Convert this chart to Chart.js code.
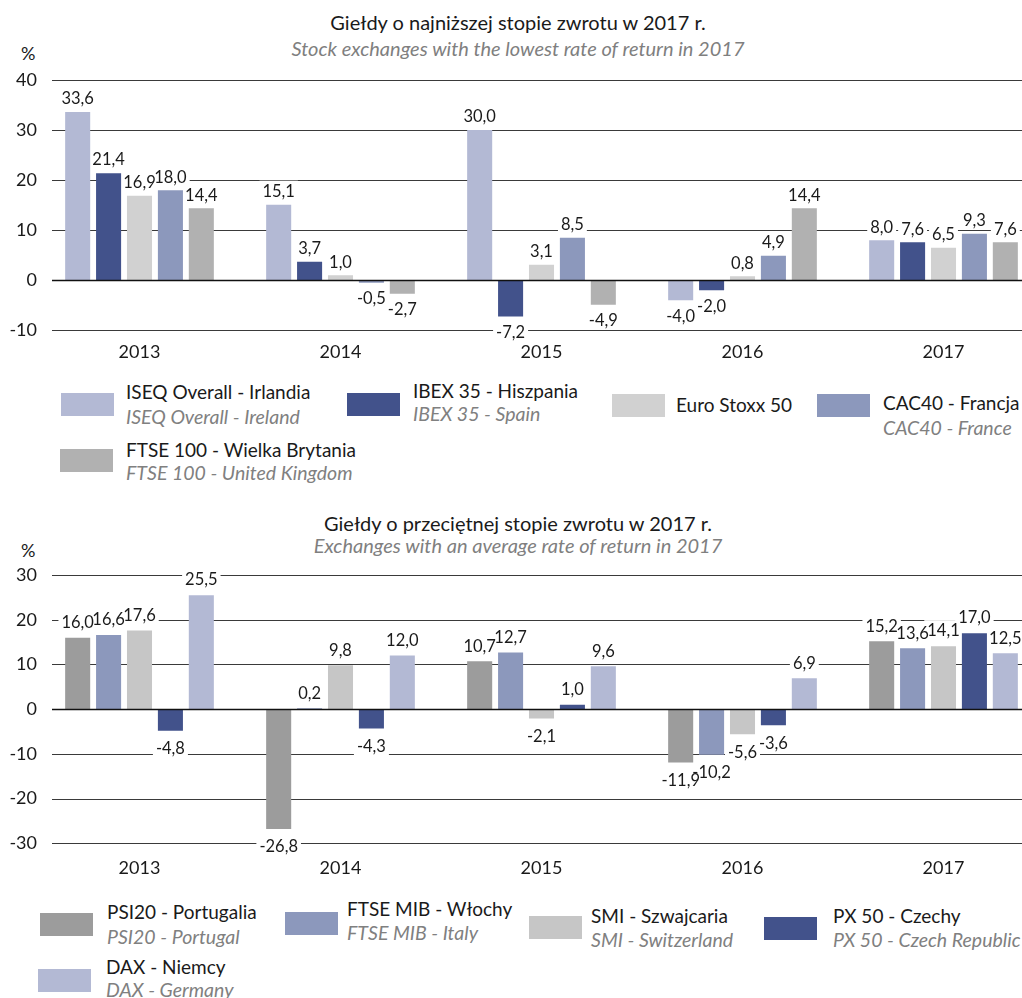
<!DOCTYPE html>
<html>
<head>
<meta charset="utf-8">
<script src="https://cdn.jsdelivr.net/npm/chart.js@4"></script>
<style>
  body { margin: 0; background: #fff; font-family: Lato, sans-serif; color: #1a1a1a; }
  #page { position: relative; width: 1022px; height: 998px; overflow: hidden; }
  .abs { position: absolute; white-space: nowrap; line-height: 24px; }
  .title { left: 0; width: 1036px; text-align: center; font-size: 20px; }
  .sub { font-style: italic; color: #7f7f7f; font-size: 20px; }
  .pct { left: 21px; font-size: 18px; }
  .sw { position: absolute; width: 53px; height: 23px; }
  .lg { font-size: 19px; }
  .lg.en { font-style: italic; color: #808080; font-size: 19.5px; }
  canvas { position: absolute; left: 0; }
</style>
</head>
<body>
<div id="page">
  <div class="abs title" style="top:10px">Giełdy o najniższej stopie zwrotu w 2017 r.</div>
  <div class="abs title sub" style="top:36px">Stock exchanges with the lowest rate of return in 2017</div>
  <div class="abs pct" style="top:41px">%</div>
  <canvas id="lowChart" width="1044" height="314" style="top:60px"></canvas>

  <div class="abs title" style="top:511px">Giełdy o przeciętnej stopie zwrotu w 2017 r.</div>
  <div class="abs title sub" style="top:533px">Exchanges with an average rate of return in 2017</div>
  <div class="abs pct" style="top:538px">%</div>
  <canvas id="avgChart" width="1044" height="338" style="top:555px"></canvas>
</div>

<script>
// categories
const years = ['2013', '2014', '2015', '2016', '2017'];

// chart 1 - lowest rate of return
const lowNamesPl = ['ISEQ Overall - Irlandia', 'IBEX 35 - Hiszpania', 'Euro Stoxx 50', 'CAC40 - Francja', 'FTSE 100 - Wielka Brytania'];
const lowNamesEn = ['ISEQ Overall - Ireland', 'IBEX 35 - Spain', '', 'CAC40 - France', 'FTSE 100 - United Kingdom'];
const iseq    = [33.6, 15.1, 30.0, -4.0, 8.0];
const ibex    = [21.4, 3.7, -7.2, -2.0, 7.6];
const stoxx   = [16.9, 1.0, 3.1, 0.8, 6.5];
const cac40   = [18.0, -0.5, 8.5, 4.9, 9.3];
const ftse100 = [14.4, -2.7, -4.9, 14.4, 7.6];

// chart 2 - average rate of return
const avgNamesPl = ['PSI20 - Portugalia', 'FTSE MIB - Włochy', 'SMI - Szwajcaria', 'PX 50 - Czechy', 'DAX  - Niemcy'];
const avgNamesEn = ['PSI20 - Portugal', 'FTSE MIB - Italy', 'SMI - Switzerland', 'PX 50 - Czech Republic', 'DAX - Germany'];
const psi20   = [16.0, -26.8, 10.7, -11.9, 15.2];
const ftseMib = [16.6, 0.2, 12.7, -10.2, 13.6];
const smi     = [17.6, 9.8, -2.1, -5.6, 14.1];
const px50    = [-4.8, -4.3, 1.0, -3.6, 17.0];
const dax     = [25.5, 12.0, 9.6, 6.9, 12.5];

// axis ranges
const lowAxis = { min: -10, max: 40, step: 10 };
const avgAxis = { min: -30, max: 30, step: 10 };

const lowColors = ['#b3b9d4', '#42528b', '#d1d1d1', '#8c98bc', '#b1b1b1'];
const avgColors = ['#9c9c9c', '#8c98bc', '#c6c6c6', '#42528b', '#b3b9d4'];

// legend placement [swatchX, swatchY, textX, line1 centre, line2 centre]
const lowLegendPos = [[61, 393, 126, 392, 417], [347, 393, 413, 391, 414], [612, 394, 676, 405, 0], [817, 394, 883, 403, 428], [60, 449, 126, 450, 473]];
const avgLegendPos = [[40, 913, 107, 912, 937], [285, 912, 347, 909, 933], [529, 916, 591, 916, 940], [764, 917, 833, 916, 940], [38, 969, 106, 967, 990]];

const fmt = v => v.toFixed(1).replace('.', ',');

// grid lines from x=52, white-boxed value labels, zero line on top
const gridAndLabels = {
  id: 'gridAndLabels',
  beforeDatasetsDraw(chart, args, opts) {
    const ctx = chart.ctx, y = chart.scales.y;
    ctx.save();
    ctx.strokeStyle = '#3a3a3a';
    ctx.lineWidth = 1;
    y.ticks.forEach(t => {
      if (t.value === 0) return;
      const py = Math.round(y.getPixelForValue(t.value)) + 0.5;
      ctx.beginPath(); ctx.moveTo(52, py); ctx.lineTo(chart.width, py); ctx.stroke();
    });
    // label backgrounds
    ctx.font = '16.5px Lato';
    ctx.fillStyle = '#fff';
    chart.data.datasets.forEach((ds, di) => {
      chart.getDatasetMeta(di).data.forEach((bar, i) => {
        const v = ds.data[i];
        const w = ctx.measureText(fmt(v)).width;
        const cy = v >= 0 ? bar.y - opts.gapUp : bar.y + opts.gapDown;
        ctx.fillRect(bar.x - w / 2 - 3, cy - 10, w + 6, 20);
      });
    });
    ctx.restore();
  },
  afterDatasetsDraw(chart, args, opts) {
    const ctx = chart.ctx, y = chart.scales.y;
    ctx.save();
    const z = Math.round(y.getPixelForValue(0)) + 0.5;
    ctx.strokeStyle = '#111';
    ctx.lineWidth = 1.5;
    ctx.beginPath(); ctx.moveTo(52, z); ctx.lineTo(chart.width, z); ctx.stroke();
    ctx.font = '16.5px Lato';
    ctx.fillStyle = '#1a1a1a';
    ctx.textAlign = 'center';
    ctx.textBaseline = 'middle';
    chart.data.datasets.forEach((ds, di) => {
      chart.getDatasetMeta(di).data.forEach((bar, i) => {
        const v = ds.data[i];
        const cy = v >= 0 ? bar.y - opts.gapUp : bar.y + opts.gapDown;
        ctx.fillText(fmt(v), bar.x, cy + 1);
      });
    });
    ctx.restore();
  }
};

function makeChart(id, names, series, colors, axis, xPad, gaps) {
  return new Chart(document.getElementById(id), {
    type: 'bar',
    data: {
      labels: years,
      datasets: series.map((s, i) => ({
        label: names[i],
        data: s,
        backgroundColor: colors[i],
        categoryPercentage: 0.769,
        barPercentage: 0.81
      }))
    },
    options: {
      responsive: false,
      animation: false,
      layout: { padding: { top: 20, left: 0, right: 0, bottom: 0 } },
      plugins: {
        legend: { display: false },
        tooltip: { enabled: false },
        gridAndLabels: gaps
      },
      scales: {
        x: {
          grid: { display: false, drawTicks: false },
          border: { display: false },
          ticks: { color: '#1a1a1a', font: { family: 'Lato', size: 18 }, padding: xPad }
        },
        y: {
          min: axis.min,
          max: axis.max,
          grid: { display: false, drawTicks: false },
          border: { display: false },
          ticks: { stepSize: axis.step, color: '#1a1a1a', font: { family: 'Lato', size: 18 }, padding: 2 },
          afterFit(scale) { scale.width = 39; }
        }
      }
    },
    plugins: [gridAndLabels]
  });
}

function addLegend(namesPl, namesEn, colors, pos) {
  const page = document.getElementById('page');
  namesPl.forEach((n, i) => {
    const p = pos[i];
    const sw = document.createElement('div');
    sw.className = 'sw';
    sw.style.left = p[0] + 'px';
    sw.style.top = p[1] + 'px';
    sw.style.background = colors[i];
    page.appendChild(sw);
    const l1 = document.createElement('div');
    l1.className = 'abs lg';
    l1.style.left = p[2] + 'px';
    l1.style.top = (p[3] - 12) + 'px';
    l1.textContent = n;
    page.appendChild(l1);
    if (namesEn[i]) {
      const l2 = document.createElement('div');
      l2.className = 'abs lg en';
      l2.style.left = p[2] + 'px';
      l2.style.top = (p[4] - 12) + 'px';
      l2.textContent = namesEn[i];
      page.appendChild(l2);
    }
  });
}

makeChart('lowChart', lowNamesPl, [iseq, ibex, stoxx, cac40, ftse100], lowColors, lowAxis, 11, { gapUp: 14, gapDown: 15 });
makeChart('avgChart', avgNamesPl, [psi20, ftseMib, smi, px50, dax], avgColors, avgAxis, 14, { gapUp: 16, gapDown: 17 });
addLegend(lowNamesPl, lowNamesEn, lowColors, lowLegendPos);
addLegend(avgNamesPl, avgNamesEn, avgColors, avgLegendPos);
</script>
</body>
</html>
